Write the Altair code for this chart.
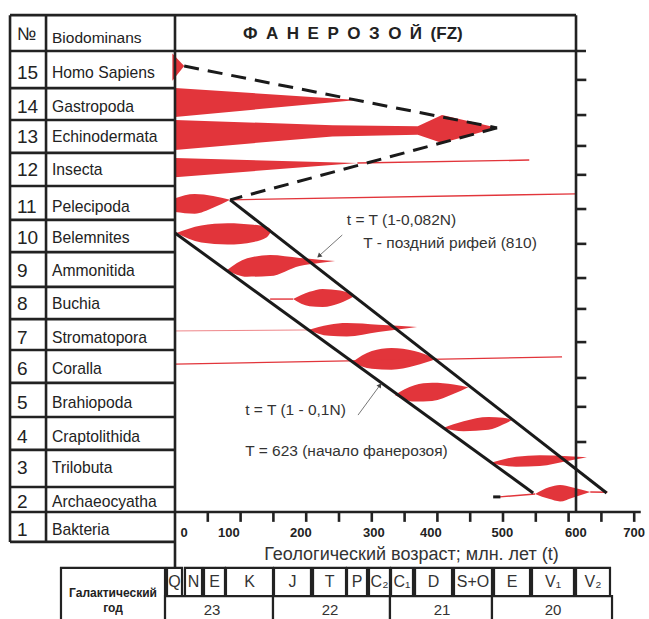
import altair as alt
import pandas as pd

# ---------------- data ----------------
row_numbers = ["15", "14", "13", "12", "11", "10", "9", "8", "7", "6", "5", "4", "3", "2", "1"]
biodominans = ["Homo Sapiens", "Gastropoda", "Echinodermata", "Insecta", "Pelecipoda",
               "Belemnites", "Ammonitida", "Buchia", "Stromatopora", "Coralla",
               "Brahiopoda", "Craptolithida", "Trilobuta", "Archaeocyatha", "Bakteria"]
row_label_n = [14.86, 13.83, 12.91, 11.91, 10.78, 9.84, 8.83, 7.83, 6.80, 5.85, 4.82, 3.78, 2.84, 1.80, 0.95]
row_bounds = [14.40, 13.43, 12.43, 11.42, 10.39, 9.41, 8.35, 7.37, 6.43, 5.43, 4.39, 3.39, 2.26, 1.50, 0.59]

age_ticks = [50, 100, 150, 200, 250, 300, 350, 400, 450, 500, 550, 600, 650, 700]
age_labels = ["0", "100", "200", "300", "400", "500", "600", "700"]
age_label_t = [14, 82, 192, 303, 390, 499, 611, 700]
right_ticks_n = [14.65, 13.58, 12.64, 11.76, 10.72, 9.66, 8.62, 7.68, 6.67, 5.58, 4.70, 3.63]

periods = ["Q", "N", "E", "K", "J", "T", "P", "C\u2082", "C\u2081", "D", "S+O", "E", "V\u2081", "V\u2082"]
period_start = [-12.2, 15.2, 44.2, 77.7, 150.9, 210.4, 262.2, 295.7, 329.3, 365.9, 425.3, 486.3, 544.2, 611.3]
period_end = [10.7, 41.2, 76.2, 149.4, 207.3, 260.7, 292.7, 327.7, 362.8, 422.3, 483.2, 541.2, 608.2, 663.1]
galactic_years = ["23", "22", "21", "20"]
gy_start = [-15.2, 149.4, 327.7, 483.2]
gy_end = [149.4, 327.7, 483.2, 666.2]
gy_label_t = [56.4, 236.3, 407.0, 576.2]

# red wedges (t in Ma, top N, bottom N)
wedges = {
    "Homo Sapiens": [(-4, 15.45, 14.62), (14, 15.07, 15.07)],
    "Gastropoda": [(0, 14.40, 13.52), (278, 14.04, 14.04)],
    "Echinodermata": [(0, 13.43, 12.52), (240, 13.27, 12.93), (370, 13.24, 12.98),
                      (407, 13.58, 12.73), (491, 13.19, 13.19)],
    "Insecta": [(0, 12.27, 11.69), (278, 12.12, 12.12)],
}
# red lenses
lenses = {
    "Pelecipoda": [(0, 11.05, 10.63), (30, 11.18, 10.58), (58, 11.12, 10.76), (84, 11.0, 11.0)],
    "Belemnites": [(2, 9.99, 9.99), (40, 10.22, 9.70), (80, 10.29, 9.64), (120, 10.24, 9.72),
                   (140, 10.18, 9.86), (146, 10.10, 10.02)],
    "Ammonitida": [(79, 8.86, 8.86), (110, 9.22, 8.66), (145, 9.32, 8.68), (190, 9.23, 8.99),
                   (220, 9.18, 9.08), (244, 9.14, 9.14)],
    "Buchia": [(180, 7.98, 7.98), (205, 8.20, 7.76), (225, 8.29, 7.74), (252, 8.24, 7.86), (271, 8.14, 8.04)],
    "Stromatopora": [(203, 7.04, 7.04), (235, 7.20, 6.86), (262, 7.25, 6.84), (310, 7.20, 6.98), (369, 7.13, 7.13)],
    "Coralla": [(270, 6.06, 6.06), (300, 6.40, 5.86), (330, 6.49, 5.83), (365, 6.40, 5.95), (399, 6.16, 6.16)],
    "Brahiopoda": [(335, 5.06, 5.06), (365, 5.36, 4.86), (392, 5.43, 4.88), (425, 5.38, 5.10), (447, 5.30, 5.30)],
    "Craptolithida": [(409, 4.06, 4.06), (440, 4.26, 3.96), (478, 4.39, 4.00), (500, 4.37, 4.16), (514, 4.30, 4.30)],
    "Trilobuta": [(480, 2.99, 2.99), (520, 3.18, 2.88), (556, 3.23, 2.90), (600, 3.20, 3.06), (628, 3.17, 3.17)],
    "Archaeocyatha": [(549, 2.05, 2.05), (570, 2.25, 1.90), (587, 2.32, 1.82), (605, 2.25, 1.93), (633, 2.11, 2.11)],
}
# thin red range lines (t1, n1, t2, n2)
red_lines = [(278, 12.12, 540, 12.21), (84, 11.0, 611, 11.18), (145, 7.98, 180, 7.98),
             (0, 6.00, 590, 6.22), (495, 1.96, 549, 2.05), (633, 2.11, 659, 2.10)]
faint_red_lines = [(0, 7.01, 203, 7.04)]
dashed_path = [(14, 15.07, 491, 13.19), (491, 13.19, 84, 11.0)]
diagonals = [(84, 11.0, 658, 2.08), (0, 9.99, 546, 2.08), (485, 1.96, 496, 1.96)]

RED = "#e2353b"
INK = "#222222"
FONT = "Liberation Sans"

# ---------------- scales ----------------
XD = [-266.77, 722.56]
YD = [-1.756, 17.081]


def X(f):
    return alt.X(f"{f}:Q", scale=alt.Scale(domain=XD, nice=False, zero=False), axis=None)


def Y(f):
    return alt.Y(f"{f}:Q", scale=alt.Scale(domain=YD, nice=False, zero=False), axis=None)


def rules(segs, **kw):
    df = pd.DataFrame(segs, columns=["t", "n", "t2", "n2"])
    return alt.Chart(df).mark_rule(**kw).encode(
        x=X("t"), y=Y("n"), x2=alt.X2("t2:Q"), y2=alt.Y2("n2:Q"))


def rects(segs, **kw):
    df = pd.DataFrame(segs, columns=["t", "n", "t2", "n2"])
    return alt.Chart(df).mark_rect(**kw).encode(
        x=X("t"), y=Y("n"), x2=alt.X2("t2:Q"), y2=alt.Y2("n2:Q"))


def texts(labels, ts, ns, **kw):
    df = pd.DataFrame({"label": labels, "t": ts, "n": ns})
    return alt.Chart(df).mark_text(font=FONT, baseline="middle", **kw).encode(
        x=X("t"), y=Y("n"), text="label:N")


def shapes_df(shapes):
    rows = []
    for name, pts in shapes.items():
        for t, top, bot in pts:
            rows.append({"id": name, "t": t, "top": top, "bot": bot})
    return pd.DataFrame(rows)


T_LEFT, T_DIV, T_RIGHT = -251.5, -196.6, 611.3
N_TOP, N_HEAD = 16.62, 15.53

frame = [(T_LEFT, N_TOP, T_RIGHT, N_TOP), (T_LEFT, N_HEAD, 626.5, N_HEAD),
         (T_LEFT, N_TOP, T_LEFT, 0.59), (T_DIV, N_TOP, T_DIV, 0.59),
         (0, N_TOP, 0, -0.20), (T_RIGHT, N_TOP, T_RIGHT, 1.5),
         (0, 1.5, 710, 1.5)]
frame += [(T_LEFT, b, 0, b) for b in row_bounds]
frame += [(a, 1.5, a, 1.2) for a in age_ticks]
frame += [(T_RIGHT, r, 627, r) for r in right_ticks_n]

layers = []
# galactic-year table
layers.append(rects([(-173.8, -0.20, -15.2, -2.2)], fill="white", stroke=INK, strokeWidth=2.2, clip=True))
layers.append(rects([(s, -0.20, e, -1.06) for s, e in zip(period_start, period_end)],
                    fill="white", stroke=INK, strokeWidth=2.2, clip=True))
layers.append(rects([(s, -1.06, e, -2.2) for s, e in zip(gy_start, gy_end)],
                    fill="white", stroke=INK, strokeWidth=2.2, clip=True))

# red shapes
layers.append(alt.Chart(shapes_df(wedges)).mark_area(color=RED, interpolate="linear").encode(
    x=X("t"), y=Y("top"), y2=alt.Y2("bot:Q"), detail="id:N"))
layers.append(alt.Chart(shapes_df(lenses)).mark_area(color=RED, interpolate="monotone").encode(
    x=X("t"), y=Y("top"), y2=alt.Y2("bot:Q"), detail="id:N"))
layers.append(rules(red_lines, color=RED, strokeWidth=1.4))
layers.append(rules(faint_red_lines, color=RED, strokeWidth=1.0, opacity=0.6))

# frame & black lines
layers.append(rules(frame, color=INK, strokeWidth=2.6))
layers.append(rules(dashed_path, color="#1a1a1a", strokeWidth=3, strokeDash=[15, 9]))
layers.append(rules(diagonals, color="#1a1a1a", strokeWidth=3))

# arrows
layers.append(rules([(255, 9.93, 221, 9.32), (279, 4.45, 311, 5.32)], color="#777777", strokeWidth=1))
arrow_df1 = pd.DataFrame({"t": [219.5], "n": [9.29]})
arrow_df2 = pd.DataFrame({"t": [312.5], "n": [5.36]})
layers.append(alt.Chart(arrow_df1).mark_point(shape="triangle-up", filled=True, size=28, angle=228,
                                              color="#444444", opacity=1).encode(x=X("t"), y=Y("n")))
layers.append(alt.Chart(arrow_df2).mark_point(shape="triangle-up", filled=True, size=28, angle=36,
                                              color="#444444", opacity=1).encode(x=X("t"), y=Y("n")))

# table texts
layers.append(texts(["\u2116"], [-241], [16.02], fontSize=18, align="left", color=INK))
layers.append(texts(["Biodominans"], [-187.5], [15.93], fontSize=15.5, align="left", color=INK))
layers.append(texts(row_numbers, [-241] * 15, row_label_n, fontSize=19, align="left", color=INK))
layers.append(texts(biodominans, [-187.5] * 15, row_label_n, fontSize=15.7, align="left", color=INK))

# title
layers.append(texts(["\u0424\u2002\u0410\u2002\u041d\u2002\u0415\u2002\u0420\u2002\u041e\u2002\u0417\u2002\u041e\u2002\u0419\u2002(FZ)"],
                    [103.7], [16.05], fontSize=17, fontWeight="bold", align="left", color=INK))

# annotations
layers.append(texts(["t = T (1-0,082N)"], [262], [10.39], fontSize=15.5, align="left", color="#333333"))
layers.append(texts(["T - поздний рифей (810)"], [287], [9.69], fontSize=15.5, align="left", color="#333333"))
layers.append(texts(["t = T (1 - 0,1N)"], [107], [4.60], fontSize=15.5, align="left", color="#333333"))
layers.append(texts(["T = 623 (начало фанерозоя)"], [107], [3.36], fontSize=15.5, align="left", color="#333333"))

# x axis labels & title
layers.append(texts(age_labels, age_label_t, [0.86] * len(age_labels), fontSize=13, fontWeight="bold",
                    align="center", color=INK))
layers.append(texts(["Геологический возраст; млн. лет (t)"], [360.5], [0.19], fontSize=18,
                    align="center", color="#333333"))

# galactic-year texts
layers.append(texts(["Галактический"], [-94.5], [-0.97], fontSize=12, fontWeight="bold",
                    align="center", color=INK))
layers.append(texts(["год"], [-94.5], [-1.42], fontSize=12, fontWeight="bold", align="center", color=INK))
layers.append(texts(periods, [(s + e) / 2 for s, e in zip(period_start, period_end)], [-0.63] * len(periods),
                    fontSize=16, align="center", color="#333333"))
layers.append(texts(galactic_years, gy_label_t, [-1.47] * 4, fontSize=15, align="center", color="#333333"))

chart = alt.layer(*layers).properties(
    width=649, height=619, padding=0, background="white",
    autosize=alt.AutoSizeParams(type="none")
).configure_view(stroke=None)

chart.save("out.html", embed_options={"renderer": "svg", "actions": False})
